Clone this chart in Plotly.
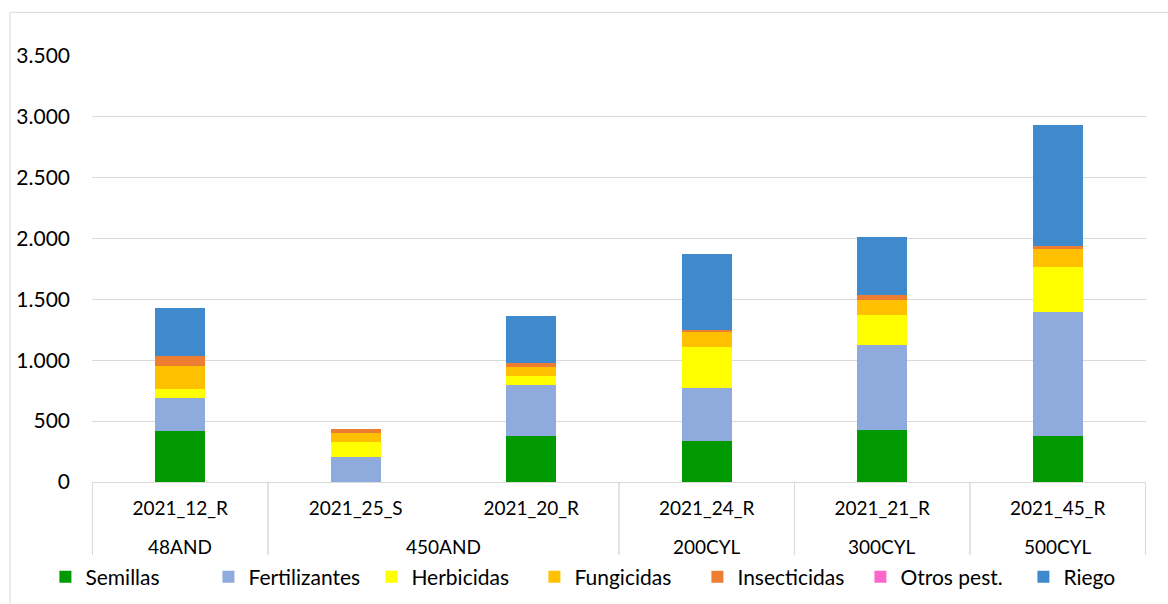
import plotly.graph_objects as go

# categorias (nivel exterior / nivel interior)
grupos = ['48AND', '450AND', '450AND', '200CYL', '300CYL', '500CYL']
ensayos = ['2021_12_R', '2021_25_S', '2021_20_R', '2021_24_R', '2021_21_R', '2021_45_R']

# costes por partida
semillas = [418, 0, 380, 334, 426, 377]
fertilizantes = [271, 205, 415, 439, 700, 1020]
herbicidas = [73, 123, 72, 340, 249, 372]
fungicidas = [189, 74, 76, 125, 117, 152]
insecticidas = [82, 33, 38, 14, 47, 14]
otros_pest = [0, 0, 0, 0, 0, 0]
riego = [394, 0, 386, 620, 470, 995]

series = [
    ('Semillas', semillas, '#009900'),
    ('Fertilizantes', fertilizantes, '#8FAADC'),
    ('Herbicidas', herbicidas, '#FFFF00'),
    ('Fungicidas', fungicidas, '#FFC000'),
    ('Insecticidas', insecticidas, '#ED7D31'),
    ('Otros pest.', otros_pest, '#FF66CC'),
    ('Riego', riego, '#3F89CD'),
]

FONT = 'Lato'
GRID = '#D9D9D9'

fig = go.Figure()
for name, vals, color in series:
    fig.add_trace(go.Bar(x=ensayos, y=vals, name=name,
                         marker=dict(color=color, line=dict(width=0))))

fig.update_layout(
    width=1168, height=604,
    barmode='stack', bargap=0.715,
    separators=',.',
    plot_bgcolor='white', paper_bgcolor='white',
    font=dict(family=FONT, size=21, color='#000000'),
    margin=dict(l=92, r=22, t=56, b=122, autoexpand=False),
    showlegend=True,
    legend=dict(orientation='h', x=-0.0442, xanchor='left', y=-0.223, yanchor='middle',
                traceorder='normal', font=dict(size=21),
                entrywidth=118, entrywidthmode='pixels'),
)
fig.update_yaxes(range=[0, 3500], dtick=500, tickformat=',d',
                 showgrid=True, gridcolor=GRID, gridwidth=1,
                 zeroline=False, showline=False, ticklabelstandoff=21,
                 automargin=False)
fig.update_xaxes(type='category', showline=True, linecolor=GRID, linewidth=1,
                 tickfont=dict(size=19), ticklabelstandoff=9, automargin=False)

# nivel exterior: etiquetas de grupo y separadores
orden = []
for g in grupos:
    if g not in orden:
        orden.append(g)
for g in orden:
    idx = [i for i, v in enumerate(grupos) if v == g]
    fig.add_annotation(x=sum(idx) / len(idx), xref='x', y=-0.1525, yref='paper',
                       text=g, showarrow=False, yanchor='middle',
                       font=dict(size=19))
    for b in (idx[0] - 0.5, idx[-1] + 0.5):
        fig.add_shape(type='line', xref='x', yref='paper', x0=b, x1=b, y0=0, y1=-0.171,
                      line=dict(color=GRID, width=1))

# marco del grafico
fig.add_shape(type='rect', xref='paper', yref='paper',
              x0=-0.0778, x1=1.1, y0=-0.4, y1=1.1025,
              line=dict(color=GRID, width=1), fillcolor='rgba(0,0,0,0)', layer='below')

# sin margen del body para que la figura empiece en (0,0)
fig.write_html('out.html', config={'displayModeBar': False},
               post_script="document.body.style.margin='0';")
